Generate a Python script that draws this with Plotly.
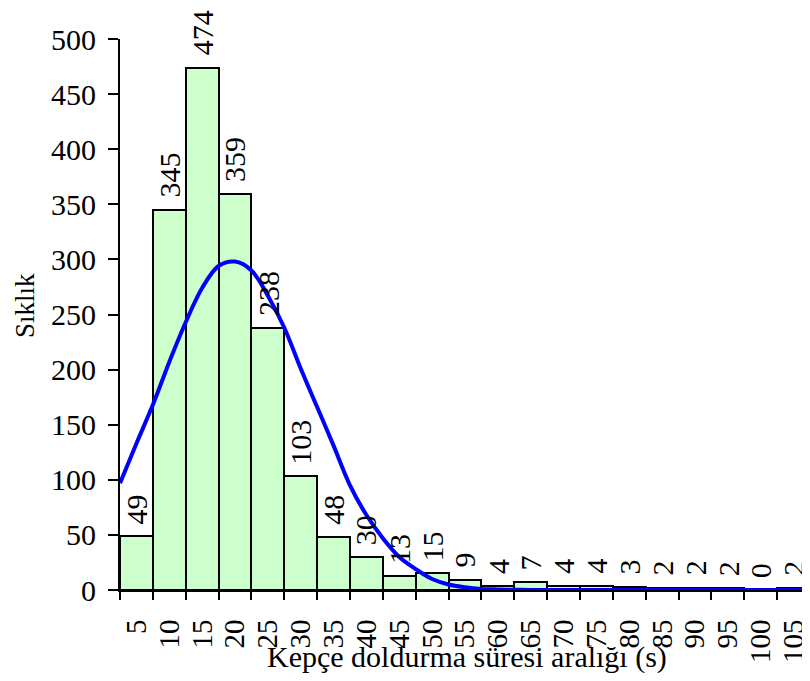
import plotly.graph_objects as go

categories = ["5", "10", "15", "20", "25", "30", "35", "40", "45", "50", "55",
              "60", "65", "70", "75", "80", "85", "90", "95", "100", "105"]
counts = [49, 345, 474, 359, 238, 103, 48, 30, 13, 15, 9, 4, 7, 4, 4, 3, 2, 2, 2, 0, 2]

curve_x = [2.5, 5, 7.5, 10, 12.5, 15, 17.5, 20, 22.5, 25, 27.5, 30, 32.5, 35, 37.5,
           40, 42.5, 45, 47.5, 50, 52.5, 55, 57.5, 60, 65, 70, 80, 90, 100, 107.5]
curve_y = [97, 133, 168, 207, 243, 274, 294, 298, 290, 267, 238, 201, 166, 131, 95,
           68, 47, 30, 19, 10, 5, 2.5, 1, 0.5, 0, 0, 0, 0, 0, 0]

y_ticks = [0, 50, 100, 150, 200, 250, 300, 350, 400, 450, 500]

x_title = "Kepçe doldurma süresi aralığı (s)"
y_title = "Sıklık"

FONT = "Liberation Serif, Times New Roman, serif"

fig = go.Figure()
fig.add_trace(go.Bar(
    x=categories, y=counts,
    marker=dict(color="#CCFFCC", line=dict(color="black", width=2)),
    width=1.0, showlegend=False, hoverinfo="skip",
))
fig.add_trace(go.Scatter(
    x=curve_x, y=curve_y, xaxis="x2", mode="lines",
    line=dict(color="#0000FF", width=4, shape="spline", smoothing=1.0),
    showlegend=False, hoverinfo="skip", cliponaxis=False,
))

for i, v in enumerate(counts):
    fig.add_annotation(
        x=i, y=v, xref="x", yref="y", text=str(v), textangle=-90,
        showarrow=False, yanchor="bottom", xanchor="center", yshift=10,
        font=dict(family=FONT, size=30, color="black"),
    )

fig.add_annotation(x=0.503, y=-0.087, xref="paper", yref="paper", text=x_title,
                   showarrow=False, yanchor="top", xanchor="center",
                   font=dict(family=FONT, size=30, color="black"))
fig.add_annotation(x=-0.138, y=0.517, xref="paper", yref="paper", text=y_title,
                   textangle=-90, showarrow=False, yanchor="middle", xanchor="center",
                   font=dict(family=FONT, size=27, color="black"))

fig.update_layout(
    template="none",
    width=802, height=673,
    margin=dict(l=112, r=0, t=31, b=91, pad=0, autoexpand=False),
    paper_bgcolor="white", plot_bgcolor="white",
    bargap=0,
    font=dict(family=FONT, size=30, color="black"),
    xaxis=dict(
        type="category", tickson="boundaries", ticks="outside", ticklen=8,
        tickwidth=2, tickcolor="black", tickangle=-90, automargin=False,
        tickmode="array", tickvals=categories, ticktext=categories,
        showline=True, linecolor="black", linewidth=2, showgrid=False,
        range=[-0.5, 20.5], tickfont=dict(family=FONT, size=29),
        ticklabelstandoff=16,
    ),
    xaxis2=dict(overlaying="x", range=[2.5, 107.5], visible=False, showgrid=False,
                automargin=False),
    yaxis=dict(
        range=[0, 500], tickvals=y_ticks, ticks="outside", ticklen=10,
        tickwidth=2, tickcolor="black", showline=True, linecolor="black",
        linewidth=2, showgrid=False, zeroline=False, automargin=False,
        tickfont=dict(family=FONT, size=30), ticklabelstandoff=6,
    ),
)

fig.write_html("out.html")
